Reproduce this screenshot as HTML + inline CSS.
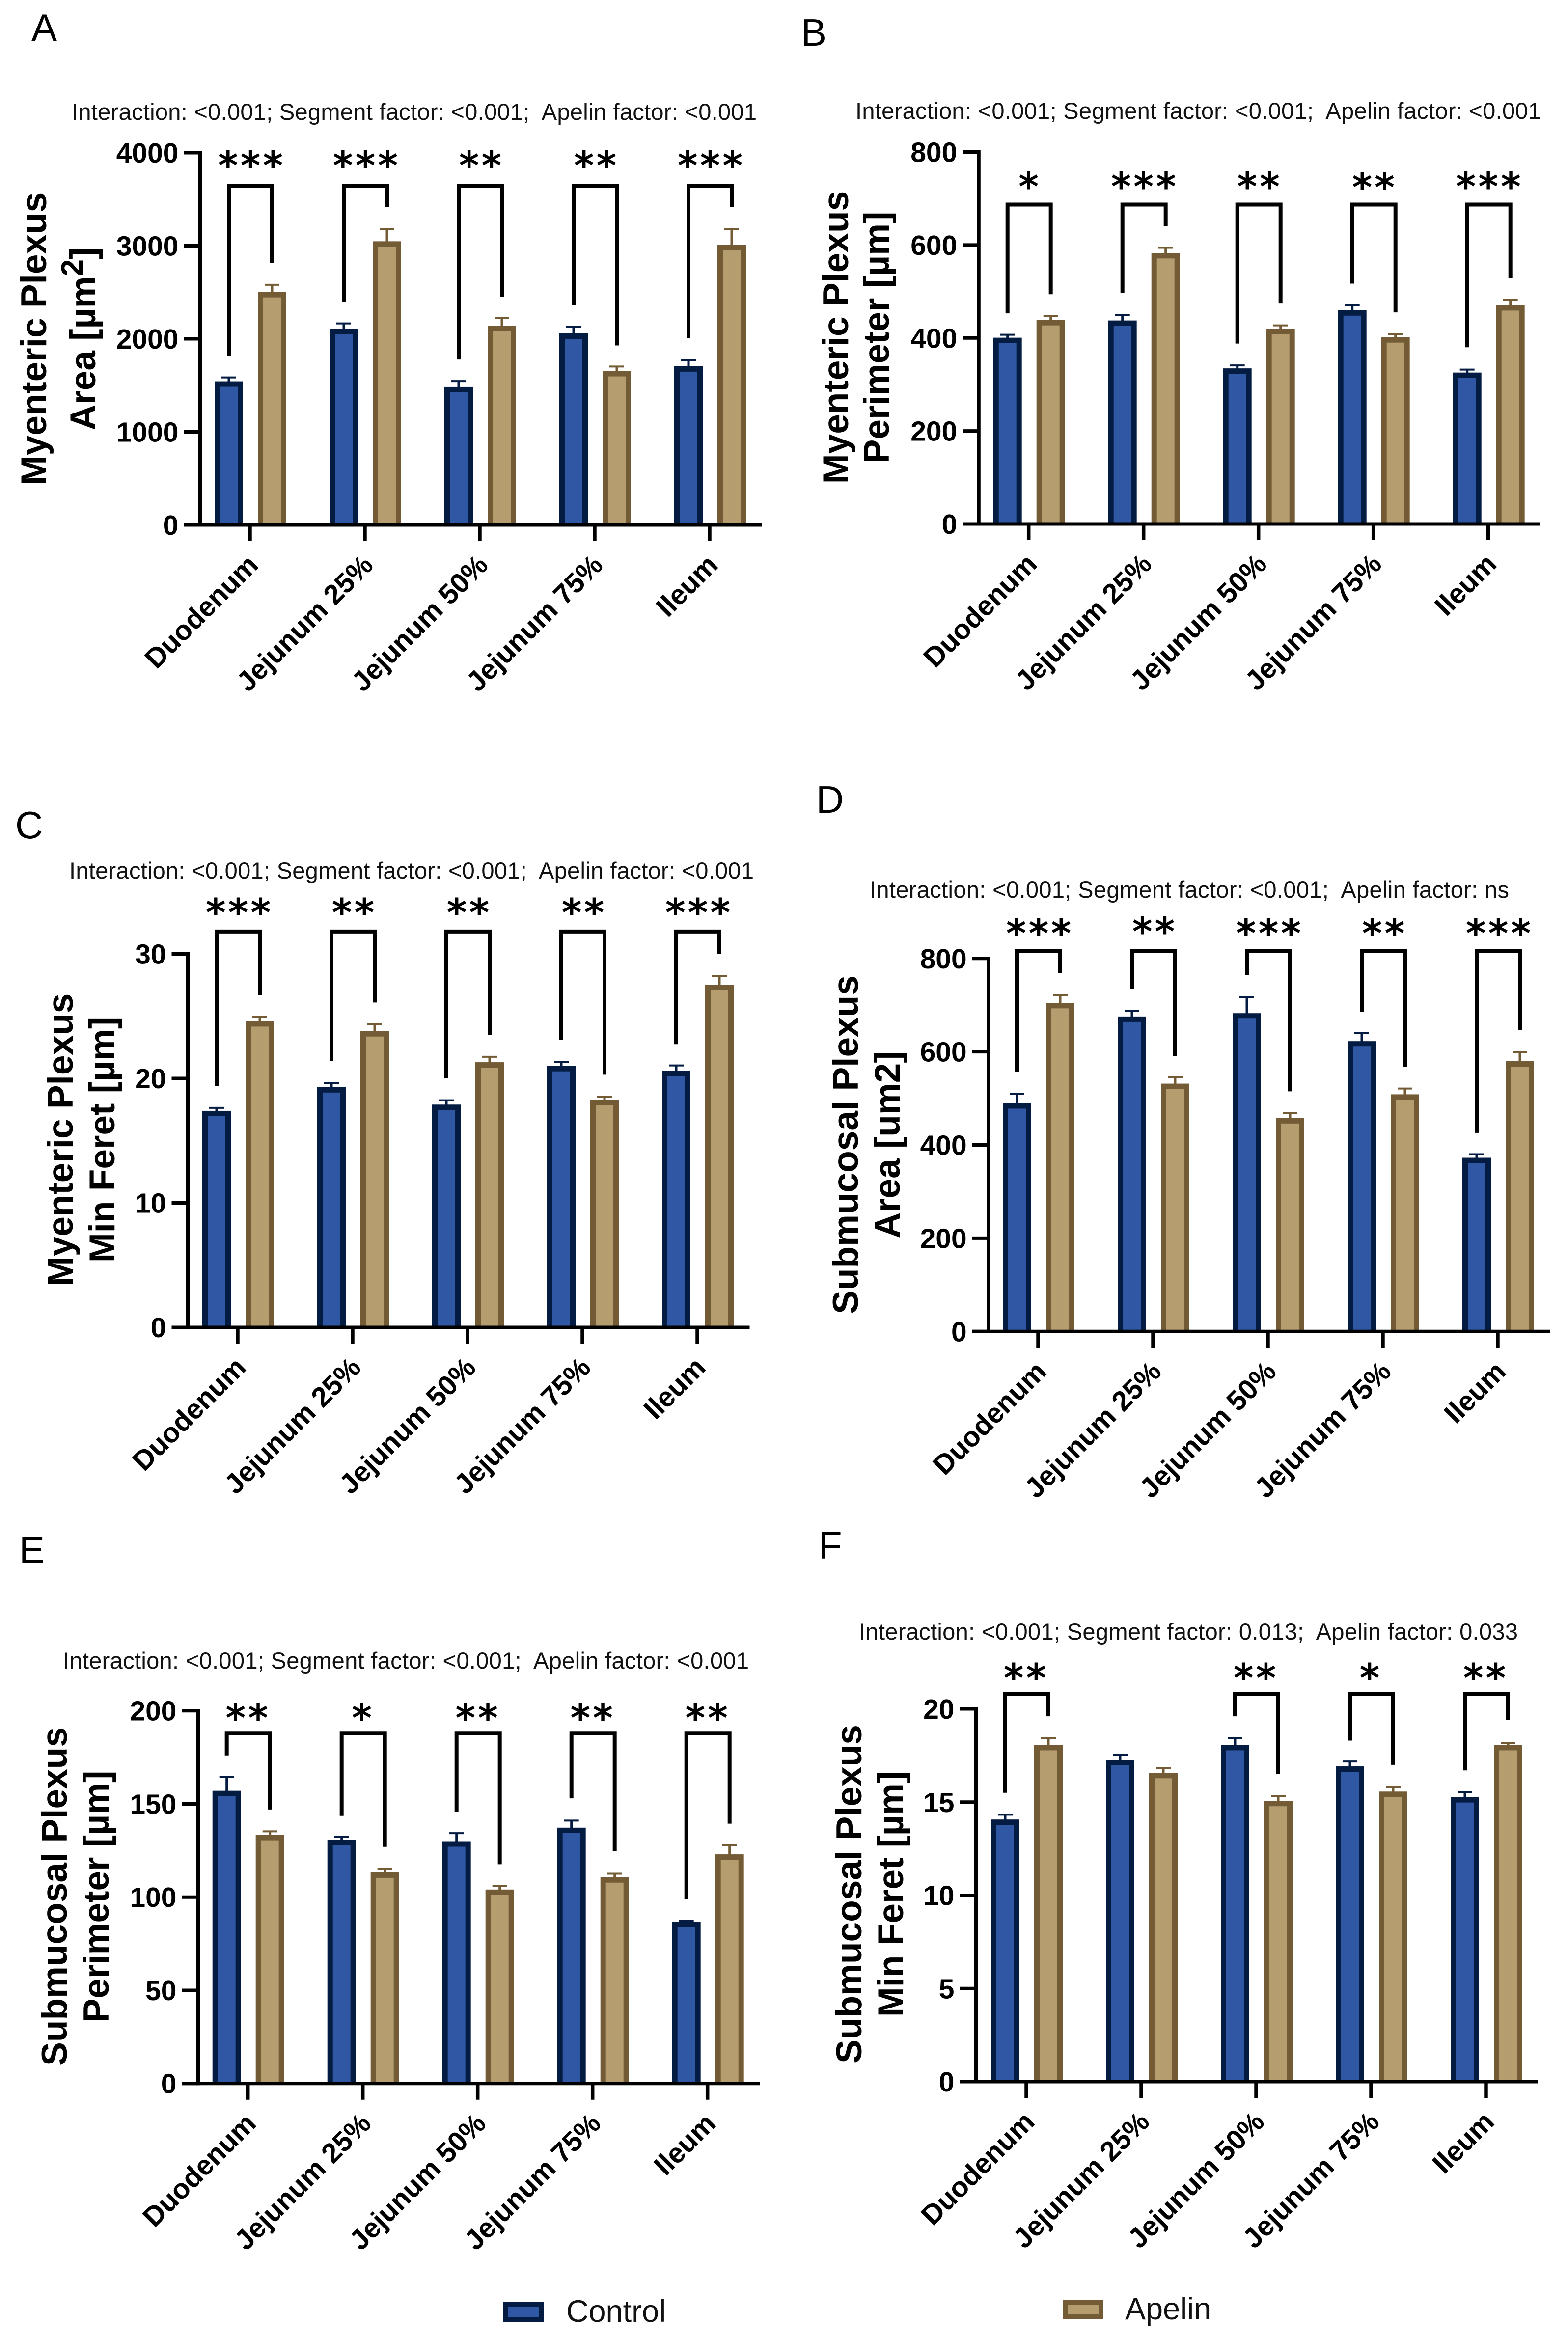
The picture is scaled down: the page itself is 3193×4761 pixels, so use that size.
<!DOCTYPE html>
<html lang="en">
<head>
<meta charset="utf-8">
<title>Myenteric and Submucosal Plexus Measurements</title>
<style>
html,body{margin:0;padding:0;background:#fff;}
svg{display:block;}
text{font-family:"Liberation Sans",Arial,sans-serif;fill:#000;}
.stat{font-size:47px;white-space:pre;fill:#111;}
.letter{font-size:78px;}
.ytitle{font-size:73px;font-weight:bold;text-anchor:middle;}
.legend-text{font-size:63px;fill:#111;}
.ytick{font-size:57px;font-weight:bold;text-anchor:end;}
.xtick{font-size:57px;font-weight:bold;text-anchor:end;}
.stars{font-family:"DejaVu Sans",sans-serif;font-size:78px;font-weight:bold;text-anchor:middle;letter-spacing:5px;}
</style>
</head>
<body>
<svg id="figure" xmlns="http://www.w3.org/2000/svg" width="3193" height="4761" viewBox="0 0 3193 4761">
<rect x="0" y="0" width="3193" height="4761" fill="#fff"/>

<text class="letter" x="64" y="83">A</text>
<text class="letter" x="1631" y="93">B</text>
<text class="letter" x="31" y="1707">C</text>
<text class="letter" x="1662" y="1655">D</text>
<text class="letter" x="39" y="3183">E</text>
<text class="letter" x="1667" y="3174">F</text>

<text class="stat" x="146" y="244" textLength="1395" lengthAdjust="spacing" xml:space="preserve">Interaction: &lt;0.001; Segment factor: &lt;0.001;  Apelin factor: &lt;0.001</text>
<text class="stat" x="1742" y="242" textLength="1396" lengthAdjust="spacing" xml:space="preserve">Interaction: &lt;0.001; Segment factor: &lt;0.001;  Apelin factor: &lt;0.001</text>
<text class="stat" x="141" y="1789" textLength="1394" lengthAdjust="spacing" xml:space="preserve">Interaction: &lt;0.001; Segment factor: &lt;0.001;  Apelin factor: &lt;0.001</text>
<text class="stat" x="1771" y="1828" textLength="1302" lengthAdjust="spacing" xml:space="preserve">Interaction: &lt;0.001; Segment factor: &lt;0.001;  Apelin factor: ns</text>
<text class="stat" x="128" y="3398" textLength="1397" lengthAdjust="spacing" xml:space="preserve">Interaction: &lt;0.001; Segment factor: &lt;0.001;  Apelin factor: &lt;0.001</text>
<text class="stat" x="1749" y="3339" textLength="1342" lengthAdjust="spacing" xml:space="preserve">Interaction: &lt;0.001; Segment factor: 0.013;  Apelin factor: 0.033</text>

<text class="ytitle" transform="translate(94 690) rotate(-90)">Myenteric Plexus</text>
<text class="ytitle" transform="translate(194 690) rotate(-90)">Area [µm<tspan font-size="62" dy="-26">2</tspan><tspan dy="26">]</tspan></text>
<text class="ytitle" transform="translate(1727 687) rotate(-90)">Myenteric Plexus</text>
<text class="ytitle" transform="translate(1810 687) rotate(-90)">Perimeter [µm]</text>
<text class="ytitle" transform="translate(148 2321) rotate(-90)">Myenteric Plexus</text>
<text class="ytitle" transform="translate(233 2321) rotate(-90)">Min Feret [µm]</text>
<text class="ytitle" transform="translate(1747 2331) rotate(-90)">Submucosal Plexus</text>
<text class="ytitle" transform="translate(1832 2331) rotate(-90)">Area [um2]</text>
<text class="ytitle" transform="translate(136 3862) rotate(-90)">Submucosal Plexus</text>
<text class="ytitle" transform="translate(221 3862) rotate(-90)">Perimeter [µm]</text>
<text class="ytitle" transform="translate(1754 3857) rotate(-90)">Submucosal Plexus</text>
<text class="ytitle" transform="translate(1839 3857) rotate(-90)">Min Feret [µm]</text>

<g>
<rect x="1030" y="4693" width="72" height="30" fill="#2f57a3" stroke="#041c42" stroke-width="10"/>
<text class="legend-text" x="1153" y="4728">Control</text>
</g>
<g>
<rect x="2170" y="4688" width="72" height="30" fill="#b59d70" stroke="#735c35" stroke-width="10"/>
<text class="legend-text" x="2291" y="4723">Apelin</text>
</g>
</svg>

<script>
// Shared categories
const categories = ['Duodenum', 'Jejunum 25%', 'Jejunum 50%', 'Jejunum 75%', 'Ileum'];

// Panel A: Myenteric Plexus Area
const ticksA = [0, 1000, 2000, 3000, 4000];
const controlA = [1530, 2096, 1470, 2045, 1692];
const controlUpperA = [1580, 2160, 1540, 2126, 1763];
const apelinA = [2490, 3035, 2126, 1641, 2995];
const apelinUpperA = [2576, 3177, 2217, 1697, 3177];
const starsA = ['***', '***', '**', '**', '***'];
const starLevelA = [3929, 3929, 3929, 3929, 3929];
const bracketTopA = [3646, 3646, 3646, 3646, 3646];
const bracketLeftA = [1818, 2399, 1778, 2359, 2005];
const bracketRightA = [2813, 3419, 2449, 1929, 3419];

// Panel B: Myenteric Plexus Perimeter
const ticksB = [0, 200, 400, 600, 800];
const controlB = [398, 435, 332, 457, 323];
const controlUpperB = [406, 448, 340, 470, 331];
const apelinB = [436, 580, 417, 399, 468];
const apelinUpperB = [446, 593, 426, 407, 481];
const starsB = ['*', '***', '**', '**', '***'];
const starLevelB = [739, 739, 739, 737, 739];
const bracketTopB = [687, 687, 687, 687, 687];
const bracketLeftB = [453, 497, 388, 517, 380];
const bracketRightB = [494, 640, 474, 455, 529];

// Panel C: Myenteric Plexus Min Feret
const ticksC = [0, 10, 20, 30];
const controlC = [17.3, 19.2, 17.8, 20.9, 20.5];
const controlUpperC = [17.6, 19.6, 18.2, 21.3, 21.0];
const apelinC = [24.5, 23.7, 21.2, 18.2, 27.4];
const apelinUpperC = [24.9, 24.3, 21.7, 18.5, 28.2];
const starsC = ['***', '**', '**', '**', '***'];
const starLevelC = [33.8, 33.8, 33.8, 33.8, 33.8];
const bracketTopC = [31.8, 31.8, 31.8, 31.8, 31.8];
const bracketLeftC = [19.4, 21.4, 20.0, 23.1, 22.75];
const bracketRightC = [26.7, 26.1, 23.5, 20.3, 30.0];

// Panel D: Submucosal Plexus Area
const ticksD = [0, 200, 400, 600, 800];
const controlD = [487, 673, 680, 620, 370];
const controlUpperD = [508, 687, 716, 639, 379];
const apelinD = [702, 529, 455, 506, 577];
const apelinUpperD = [720, 544, 468, 520, 598];
const starsD = ['***', '**', '***', '**', '***'];
const starLevelD = [867, 871, 867, 867, 867];
const bracketTopD = [816, 816, 816, 816, 816];
const bracketLeftD = [557, 735, 764, 686, 426];
const bracketRightD = [769, 591, 515, 568, 646];

// Panel E: Submucosal Plexus Perimeter
const ticksE = [0, 50, 100, 150, 200];
const controlE = [156.4, 130, 129.3, 136.6, 86];
const controlUpperE = [164.2, 132, 134, 140.8, 87];
const apelinE = [132.7, 112.6, 103.4, 110, 122.3];
const apelinUpperE = [135, 115, 105.6, 112.3, 127.6];
const starsE = ['**', '*', '**', '**', '**'];
const starLevelE = [199.4, 199.4, 199.4, 199.4, 199.4];
const bracketTopE = [188, 188, 188, 188, 188];
const bracketLeftE = [176, 143.6, 145.8, 153, 99];
const bracketRightE = [147, 127, 117.6, 124.6, 139.4];

// Panel F: Submucosal Plexus Min Feret
const ticksF = [0, 5, 10, 15, 20];
const controlF = [14.0, 17.2, 18.0, 16.85, 15.2];
const controlUpperF = [14.3, 17.5, 18.4, 17.15, 15.5];
const apelinF = [18.0, 16.5, 15.0, 15.5, 18.0];
const apelinUpperF = [18.4, 16.8, 15.3, 15.8, 18.15];
const starsF = ['**', '', '**', '*', '**'];
const starLevelF = [22.0, 22.0, 22.0, 22.0, 22.0];
const bracketTopF = [20.8, null, 20.8, 20.8, 20.8];
const bracketLeftF = [15.5, null, 19.6, 18.3, 16.7];
const bracketRightF = [19.6, null, 16.5, 17.0, 19.4];

const NS = 'http://www.w3.org/2000/svg';
const figure = document.getElementById('figure');
const CONTROL_FILL = '#2f57a3', CONTROL_EDGE = '#041c42';
const APELIN_FILL = '#b59d70', APELIN_EDGE = '#735c35';
const MARK_NUDGE = 2.5;
const CAP_NUDGE = 1;

function make(parent, tag, attrs, content) {
  const node = document.createElementNS(NS, tag);
  for (const key in attrs) node.setAttribute(key, attrs[key]);
  if (content !== undefined) node.textContent = content;
  parent.appendChild(node);
  return node;
}

function drawBar(group, center, value, upper, yScale, y0, fill, edge, seriesName, category) {
  const topY = yScale(value) - MARK_NUDGE;
  const upperY = yScale(upper) - CAP_NUDGE;
  const stem = make(group, 'line', {x1: center, x2: center, y1: topY + 2, y2: upperY, stroke: edge, 'stroke-width': 5});
  
  
  const cap = make(group, 'line', {x1: center - 15, x2: center + 15, y1: upperY, y2: upperY, stroke: edge, 'stroke-width': 4});
  
  
  const bar = make(group, 'rect', {x: center - 29, y: topY, width: 58, height: Math.max(0, y0 - topY), fill: edge});
  
  
  const inner = make(group, 'rect', {x: center - 18, y: topY + 11, width: 36, height: Math.max(0, y0 - topY - 11), fill: fill});
  
  
}

function drawPanel(layout, ticks, control, controlUpper, apelin, apelinUpper, stars, starLevel, bracketTop, bracketLeft, bracketRight) {
  const group = make(figure, 'g', {});
  
  

  const yMax = ticks[ticks.length - 1];
  const yScale = function (v) { return layout.y0 - (v / yMax) * (layout.y0 - layout.yTop); };
  const xScale = function (i) { return layout.xFirst + i * layout.xStep; };

  categories.forEach(function (name, i) {
    const slug = name.toLowerCase().replace(/[^a-z0-9]+/g, '-');
    const cx = xScale(i);
    drawBar(group, cx - 43, control[i], controlUpper[i], yScale, layout.y0, CONTROL_FILL, CONTROL_EDGE, 'control', slug);
    drawBar(group, cx + 45, apelin[i], apelinUpper[i], yScale, layout.y0, APELIN_FILL, APELIN_EDGE, 'apelin', slug);

    if (bracketTop[i] !== null) {
      const pts = [cx - 43, yScale(bracketLeft[i]), cx - 43, yScale(bracketTop[i]), cx + 45, yScale(bracketTop[i]), cx + 45, yScale(bracketRight[i])];
      const bracket = make(group, 'polyline', {points: pts.join(' '), fill: 'none', stroke: '#000', 'stroke-width': 8, 'stroke-linejoin': 'miter'});
      
      
    }
    if (stars[i]) {
      const star = make(group, 'text', {x: cx + layout.starDx + 2.5, y: yScale(starLevel[i]) + 40, 'class': 'stars'}, stars[i]);
      
      
    }

    const xTickMark = make(group, 'line', {x1: cx, x2: cx, y1: layout.y0, y2: layout.y0 + 33, stroke: '#000', 'stroke-width': 7.5});
    
    

    const lx = cx + 20, ly = layout.y0 + 85;
    const xLabel = make(group, 'text', {x: lx, y: ly, 'class': 'xtick', transform: 'rotate(-45 ' + lx + ' ' + ly + ')'}, name);
    
    
  });

  ticks.forEach(function (t) {
    const ty = yScale(t);
    const mark = make(group, 'line', {x1: layout.axisX - 33, x2: layout.axisX, y1: ty, y2: ty, stroke: '#000', 'stroke-width': 7});
    
    
    const label = make(group, 'text', {x: layout.axisX - 44, y: ty + 20, 'class': 'ytick'}, String(t));
    
    
  });

  const yAxis = make(group, 'line', {x1: layout.axisX, x2: layout.axisX, y1: layout.yTop - 3.5, y2: layout.y0 + 3.5, stroke: '#000', 'stroke-width': 7});
  
  
  const xAxis = make(group, 'line', {x1: layout.axisX - 33, x2: layout.xEnd, y1: layout.y0, y2: layout.y0, stroke: '#000', 'stroke-width': 7});
  
  
}

drawPanel({id: 'a', axisX: 407.5, yTop: 311, y0: 1069, xEnd: 1551, xFirst: 509, xStep: 234, starDx: 1}, ticksA, controlA, controlUpperA, apelinA, apelinUpperA, starsA, starLevelA, bracketTopA, bracketLeftA, bracketRightA);
drawPanel({id: 'b', axisX: 1993.3, yTop: 309.5, y0: 1067, xEnd: 3136, xFirst: 2094.7, xStep: 234, starDx: 0}, ticksB, controlB, controlUpperB, apelinB, apelinUpperB, starsB, starLevelB, bracketTopB, bracketLeftB, bracketRightB);
drawPanel({id: 'c', axisX: 382.5, yTop: 1942.5, y0: 2703, xEnd: 1526.5, xFirst: 484, xStep: 234, starDx: 1}, ticksC, controlC, controlUpperC, apelinC, apelinUpperC, starsC, starLevelC, bracketTopC, bracketLeftC, bracketRightC);
drawPanel({id: 'd', axisX: 2012.7, yTop: 1951.8, y0: 2711.3, xEnd: 3156.5, xFirst: 2114, xStep: 234, starDx: 1}, ticksD, controlD, controlUpperD, apelinD, apelinUpperD, starsD, starLevelD, bracketTopD, bracketLeftD, bracketRightD);
drawPanel({id: 'e', axisX: 403.5, yTop: 3483.7, y0: 4242.7, xEnd: 1547, xFirst: 504.7, xStep: 234, starDx: -2}, ticksE, controlE, controlUpperE, apelinE, apelinUpperE, starsE, starLevelE, bracketTopE, bracketLeftE, bracketRightE);
drawPanel({id: 'f', axisX: 1987.5, yTop: 3480, y0: 4239, xEnd: 3132, xFirst: 2090, xStep: 234, starDx: -3}, ticksF, controlF, controlUpperF, apelinF, apelinUpperF, starsF, starLevelF, bracketTopF, bracketLeftF, bracketRightF);
</script>
</body>
</html>
